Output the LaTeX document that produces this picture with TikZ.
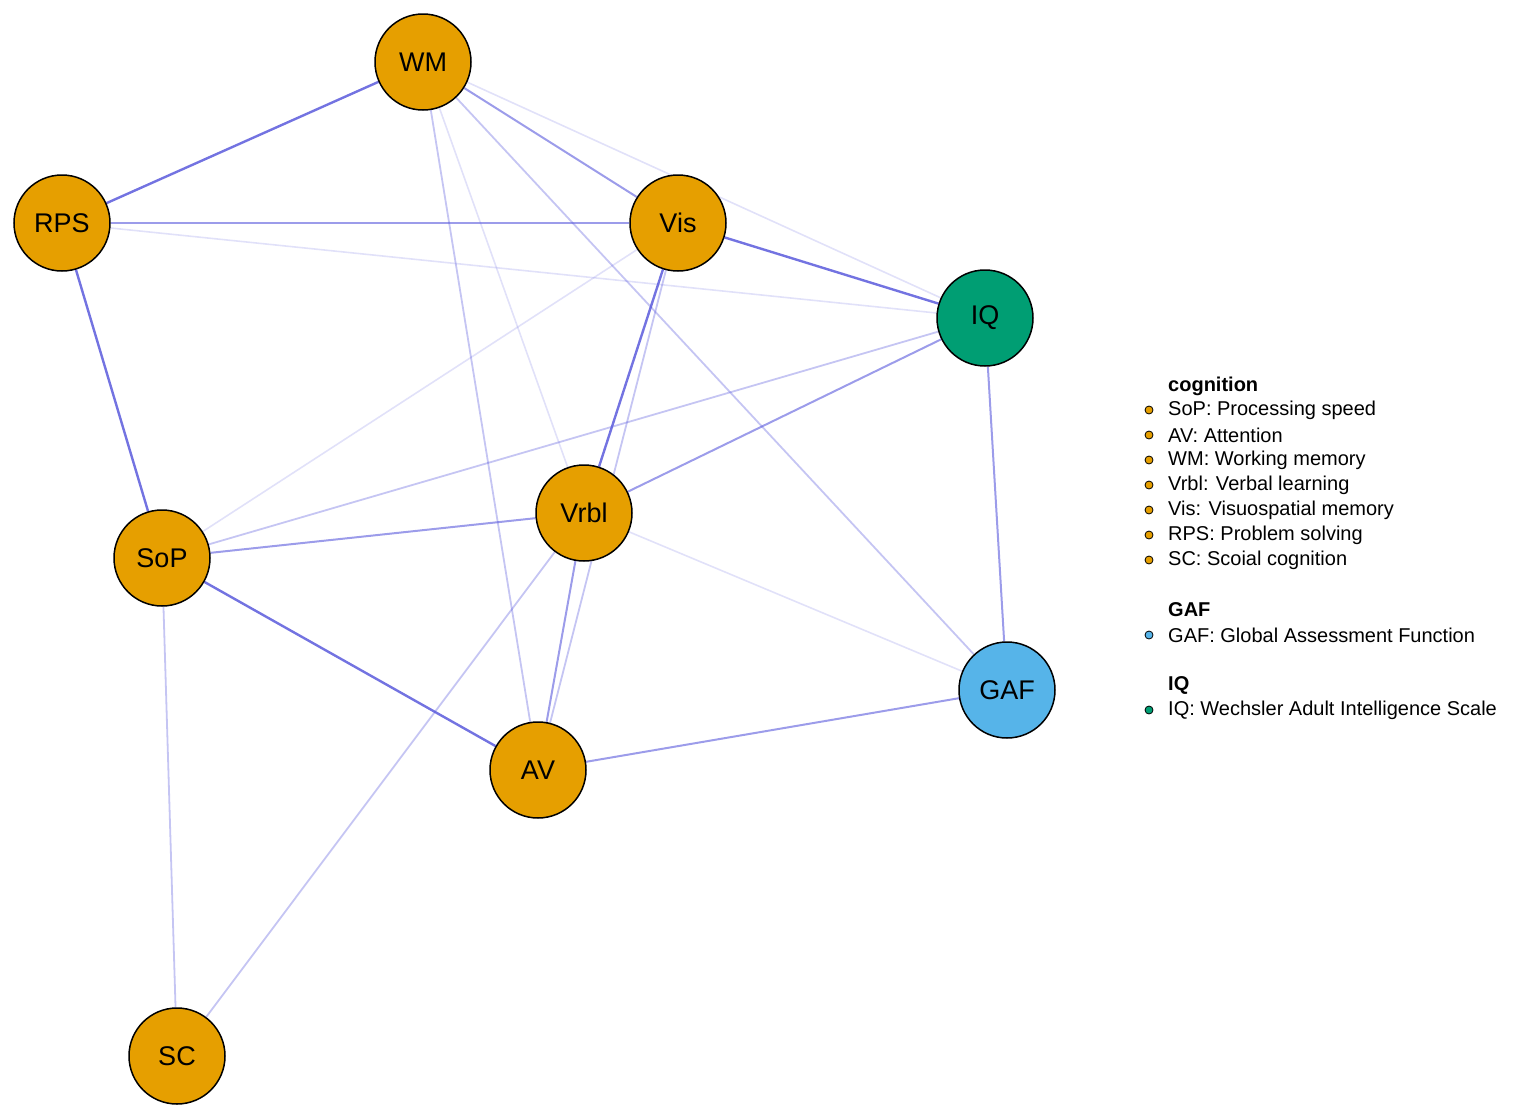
\documentclass[tikz,border=0pt]{standalone}
\usepackage{fontspec}
\setmainfont{Liberation Sans}
\usetikzlibrary{backgrounds}
\begin{document}
\begin{tikzpicture}[x=1pt,y=-1pt,
  nd/.style={circle,draw=black,line width=1.5pt,minimum size=96pt,inner sep=0pt,font=\fontsize{27}{27}\selectfont},
  cog/.style={nd,fill=cogc},
  e/.style={draw=edgec,line width=#1},
  s/.style={e=2.4pt,draw opacity=0.85},
  m/.style={e=2pt,draw opacity=0.6},
  l/.style={e=1.8pt,draw opacity=0.35},
  f/.style={e=1.6pt,draw opacity=0.18},
  dot/.style={circle,draw=black,line width=0.8pt,minimum size=8pt,inner sep=0pt},
  lt/.style={anchor=west,font=\fontsize{20}{20}\selectfont,inner sep=0pt},
  lh/.style={lt,font=\fontsize{20}{20}\selectfont\bfseries}]
\definecolor{cogc}{HTML}{E69F00}
\definecolor{iqc}{HTML}{009E73}
\definecolor{gafc}{HTML}{56B4E9}
\definecolor{edgec}{HTML}{5A5ADC}
\useasboundingbox (0,0) rectangle (1535,1119);
\node[cog] (WM) at (423,62) {WM};
\node[cog] (RPS) at (62,223) {RPS};
\node[cog] (Vis) at (678,223) {Vis};
\node[nd,fill=iqc] (IQ) at (985,318) {IQ};
\node[cog] (Vrbl) at (584,513) {Vrbl};
\node[cog] (SoP) at (162,558) {SoP};
\node[nd,fill=gafc] (GAF) at (1007,690) {GAF};
\node[cog] (AV) at (538,770) {AV};
\node[cog] (SC) at (177,1056) {SC};
\begin{pgfonlayer}{background}
\path[s] (WM) -- (RPS);
\path[m] (WM) -- (Vis);
\path[f] (WM) -- (IQ);
\path[l] (WM) -- (AV);
\path[f] (WM) -- (Vrbl);
\path[l] (WM) -- (GAF);
\path[m] (RPS) -- (Vis);
\path[f] (RPS) -- (IQ);
\path[s] (RPS) -- (SoP);
\path[s] (Vis) -- (IQ);
\path[s] (Vis) -- (Vrbl);
\path[l] (Vis) -- (AV);
\path[f] (Vis) -- (SoP);
\path[l] (IQ) -- (SoP);
\path[m] (IQ) -- (Vrbl);
\path[m] (IQ) -- (GAF);
\path[m] (Vrbl) -- (SoP);
\path[f] (Vrbl) -- (GAF);
\path[l] (Vrbl) -- (SC);
\path[m] (Vrbl) -- (AV);
\path[s] (SoP) -- (AV);
\path[l] (SoP) -- (SC);
\path[m] (AV) -- (GAF);
\end{pgfonlayer}
% legend
\node[lh] (h1) at (1168,386) {cognition};
\node[dot,fill=cogc] (d1) at (1149,410) {}; \node[lt] (t1) at (1168,410) {SoP: Processing speed};
\node[dot,fill=cogc] (d2) at (1149,435) {}; \node[lt] (t2) at (1168,435) {AV: Attention};
\node[dot,fill=cogc] (d3) at (1149,460) {}; \node[lt] (t3) at (1168,460) {WM: Working memory};
\node[dot,fill=cogc] (d4) at (1149,485) {}; \node[lt] (t4) at (1168,485) {Vrbl: Verbal learning};
\node[dot,fill=cogc] (d5) at (1149,510) {}; \node[lt] (t5) at (1168,510) {Vis: Visuospatial memory};
\node[dot,fill=cogc] (d6) at (1149,535) {}; \node[lt] (t6) at (1168,535) {RPS: Problem solving};
\node[dot,fill=cogc] (d7) at (1149,560) {}; \node[lt] (t7) at (1168,560) {SC: Scoial cognition};
\node[lh] (h2) at (1168,610) {GAF};
\node[dot,fill=gafc] (d8) at (1149,635) {}; \node[lt] (t8) at (1168,635) {GAF: Global Assessment Function};
\node[lh] (h3) at (1168,685) {IQ};
\node[dot,fill=iqc] (d9) at (1149,710) {}; \node[lt] (t9) at (1168,710) {IQ: Wechsler Adult Intelligence Scale};
\end{tikzpicture}
\end{document}
